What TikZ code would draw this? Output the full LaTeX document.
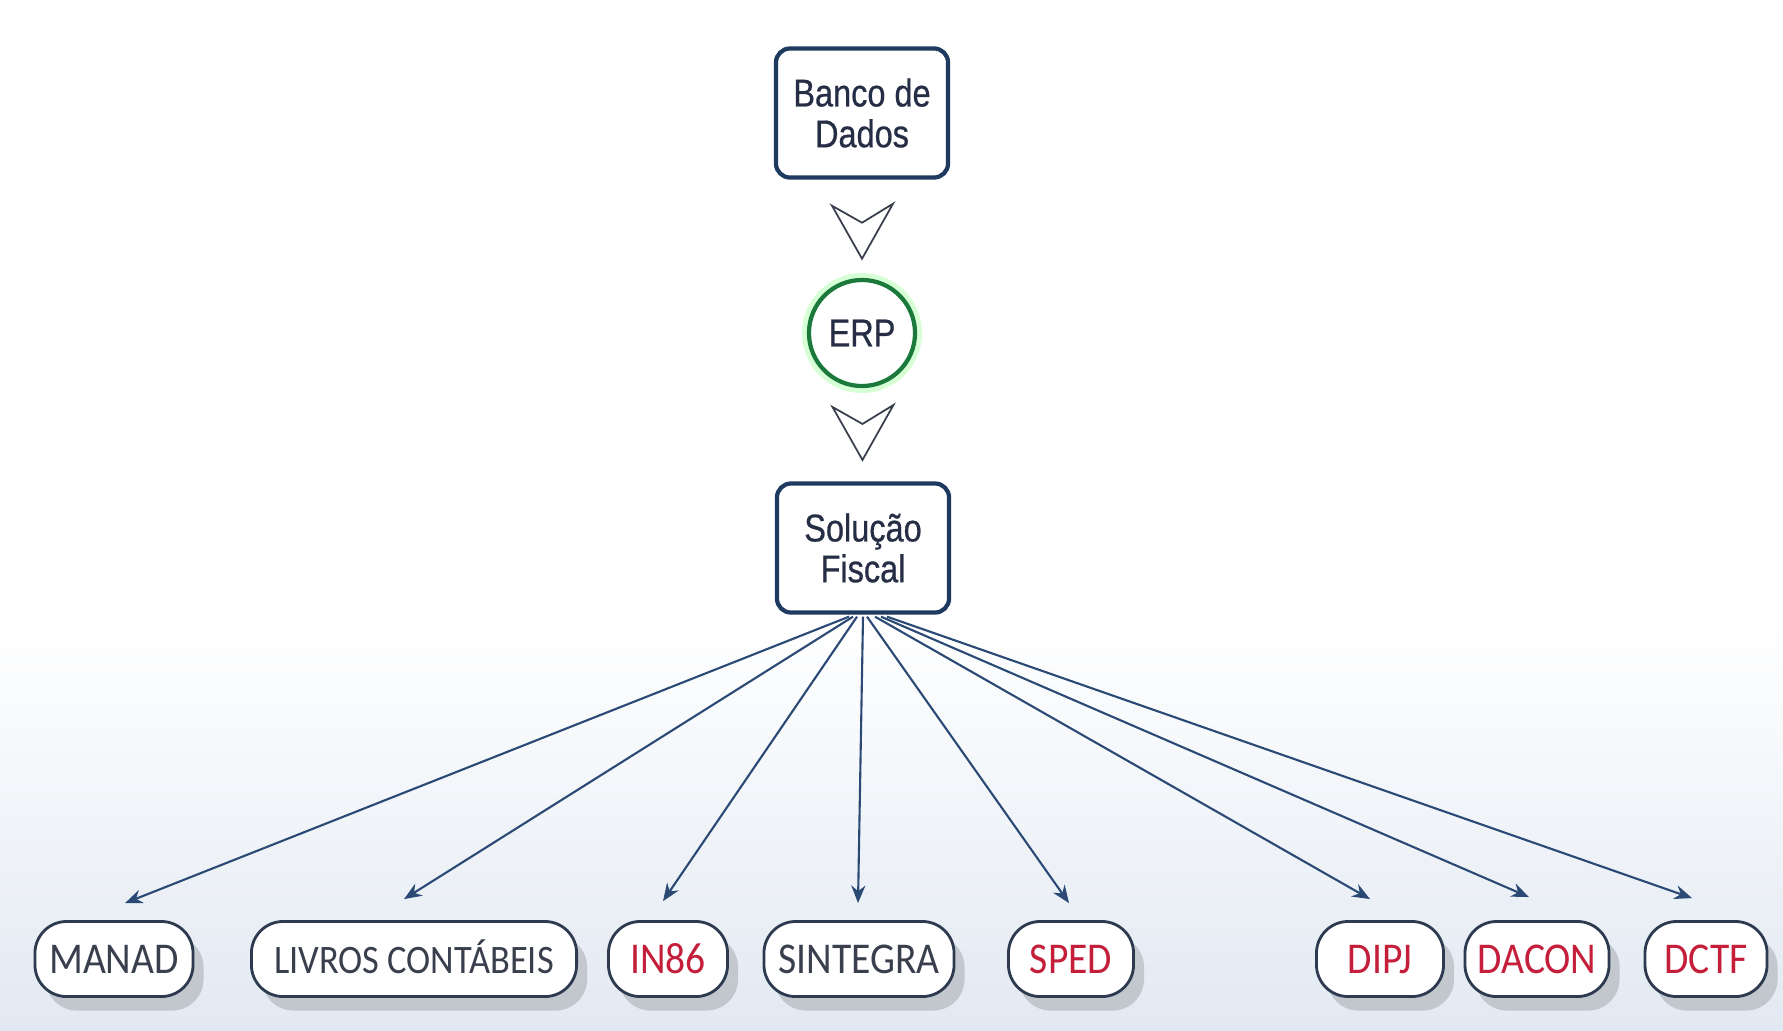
\documentclass[tikz,border=0pt]{standalone}
\usepackage{fontspec}
\setmainfont{Carlito}
\newfontfamily\condfont[FakeStretch=0.84,FakeBold=0.6]{Liberation Sans}
\newfontfamily\outfont[FakeStretch=0.9]{Carlito}
\usetikzlibrary{arrows.meta,shadows}
\definecolor{navy}{HTML}{1F3A5F}
\definecolor{erpgreen}{HTML}{1B7A3B}
\definecolor{slate}{HTML}{2E3A4F}
\definecolor{txtgray}{HTML}{3A3F4E}
\definecolor{txtnavy}{HTML}{262E45}
\definecolor{txtred}{HTML}{C41E3A}
\definecolor{arrowblue}{HTML}{2A4A75}
\definecolor{bgblue}{HTML}{E2E9F2}

\begin{document}
\begin{tikzpicture}[x=0.01cm,y=-0.01cm,
  every node/.style={inner sep=0pt},
  mainbox/.style={draw=navy,line width=1.2pt,rounded corners=4pt,fill=white,
    minimum width=1.72cm,minimum height=1.29cm,align=center,
    font=\condfont\fontsize{11}{11.6}\selectfont,text=txtnavy},
  outbox/.style={draw=slate,line width=0.8pt,rounded corners=9pt,fill=white,
    minimum height=0.75cm,font=\outfont\fontsize{12.5}{14}\selectfont,text=txtgray,
    text height=8pt,text depth=0pt,
    drop shadow={shadow xshift=3pt,shadow yshift=-4pt,opacity=.15,fill=black}},
  redtxt/.style={text=txtred},
  link/.style={draw=arrowblue,line width=0.6pt,-{Stealth[length=5pt,width=4pt]}},
  chevron/.pic={\draw[txtgray,line width=0.5pt,line join=miter]
    (-30,-25) -- (0,-8) -- (31,-27) -- (0,28) -- cycle;}]
  \useasboundingbox (0,0) rectangle (1783,1030);
  % background
  \fill[white] (0,0) rectangle (1783,1030);
  \shade[top color=white,bottom color=bgblue] (0,620) rectangle (1783,1030);

  % upper chain
  \node[mainbox] (banco) at (862,113) {Banco de\\Dados};
  \fill[green!45!white,opacity=.35] (862,333) circle (60);
  \node[circle,draw=erpgreen,line width=1.2pt,fill=white,minimum size=1.06cm,
    font=\condfont\fontsize{11}{11.6}\selectfont,text=txtnavy] (erp) at (862,333) {ERP};
  \node[mainbox] (sf) at (863,548) {Solução\\Fiscal};
  \path (banco.south) -- (erp.north) pic[pos=.52] {chevron};
  \path (erp.south) -- (sf.north) pic[pos=.47] {chevron};

  % outputs
  \node[outbox,minimum width=1.58cm] (manad) at (114,959) {MANAD};
  \node[outbox,minimum width=3.25cm,font=\outfont\fontsize{11.5}{13}\selectfont] (livros) at (414,959) {LIVROS CONTÁBEIS};
  \node[outbox,redtxt,minimum width=1.19cm] (in86) at (668,959) {IN86};
  \node[outbox,minimum width=1.90cm] (sintegra) at (859,959) {SINTEGRA};
  \node[outbox,redtxt,minimum width=1.25cm] (sped) at (1071,959) {SPED};
  \node[outbox,redtxt,minimum width=1.27cm] (dipj) at (1380,959) {DIPJ};
  \node[outbox,redtxt,minimum width=1.44cm] (dacon) at (1537,959) {DACON};
  \node[outbox,redtxt,minimum width=1.22cm] (dctf) at (1706,959) {DCTF};

  \draw[link] ([shift={(-14,2)}]sf.south) -- ([shift={(11,-17)}]manad.north);
  \draw[link] ([shift={(-10,2)}]sf.south) -- ([shift={(-10,-21)}]livros.north);
  \draw[link] ([shift={(-6,2)}]sf.south) -- ([shift={(-5,-19)}]in86.north);
  \draw[link] ([shift={(0,2)}]sf.south) -- ([shift={(-1,-17)}]sintegra.north);
  \draw[link] ([shift={(4,2)}]sf.south) -- ([shift={(-2,-17)}]sped.north);
  \draw[link] ([shift={(12,2)}]sf.south) -- ([shift={(-10,-21)}]dipj.north);
  \draw[link] ([shift={(18,2)}]sf.south) -- ([shift={(-8,-23)}]dacon.north);
  \draw[link] ([shift={(24,2)}]sf.south) -- ([shift={(-14,-22)}]dctf.north);
\end{tikzpicture}
\end{document}
